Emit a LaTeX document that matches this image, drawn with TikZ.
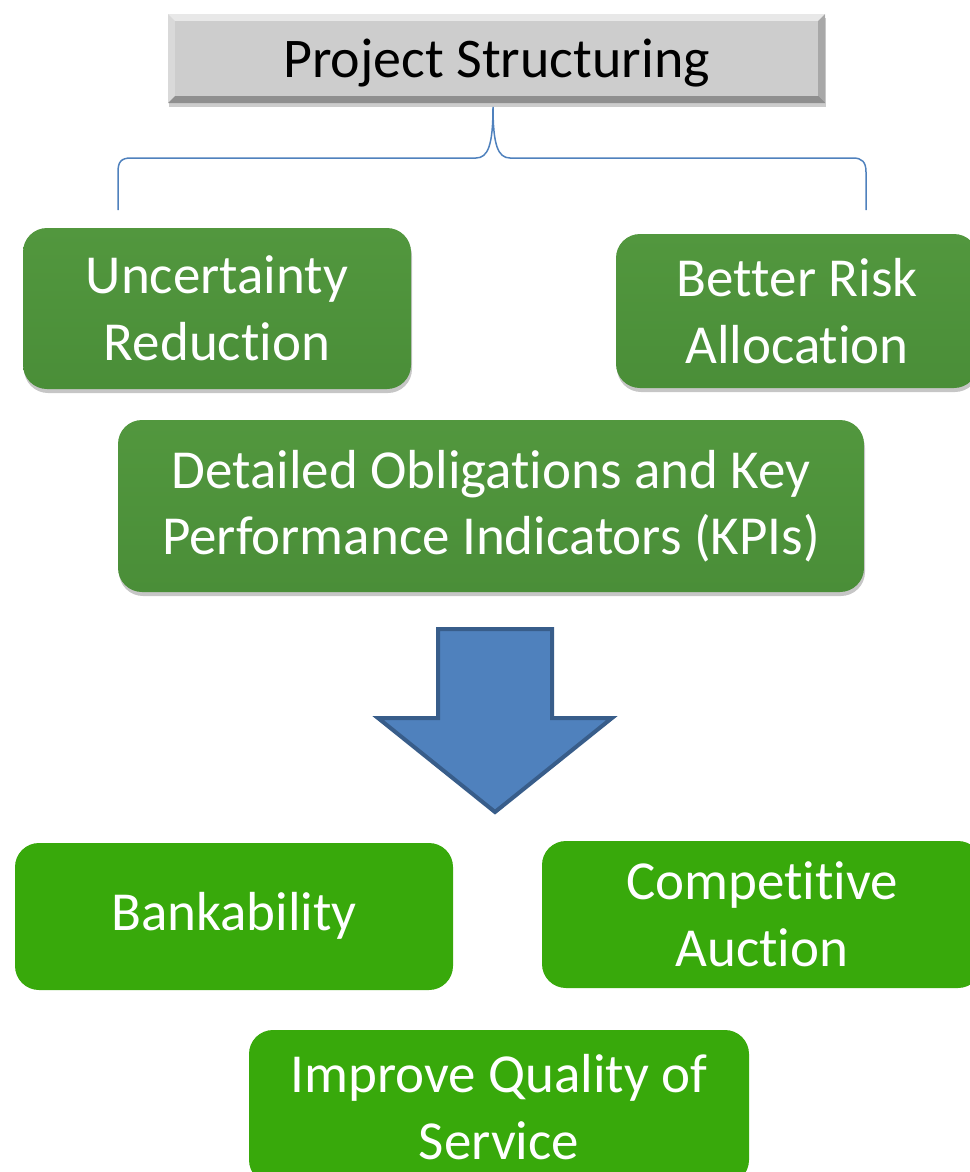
\documentclass[tikz,border=0pt]{standalone}
\usepackage{fontspec}
\setmainfont{Carlito}
\usetikzlibrary{shadows}
\newcommand\nlg{\kern0pt\relax}
\definecolor{dkgreen}{RGB}{74,142,56}
\definecolor{dkgreentop}{RGB}{82,151,62}
\definecolor{ltgreen}{RGB}{56,169,11}
\definecolor{boxgray}{RGB}{205,205,205}
\definecolor{bracecol}{RGB}{79,129,189}
\definecolor{arrowfill}{RGB}{79,129,189}
\definecolor{arrowline}{RGB}{56,93,138}
\begin{document}
\begin{tikzpicture}[x=1pt,y=-1pt,
  txt/.style={font=\fontsize{55}{66.5}\selectfont, text=white, align=center, inner sep=0pt},
  gbox/.style={txt, rounded corners=24pt, top color=dkgreentop, bottom color=dkgreen,
    drop shadow={shadow xshift=1pt, shadow yshift=-4pt, opacity=0.45}},
  lbox/.style={txt, rounded corners=24pt, fill=ltgreen},
  topbox/.style={font=\fontsize{56}{67}\selectfont, text=black, fill=boxgray, inner sep=0pt,
    text height=41pt, text depth=3pt,
    drop shadow={shadow xshift=1pt, shadow yshift=-4pt, opacity=0.4}},
  brace/.style={draw=bracecol, line width=1.5pt},
  bigarrow/.style={fill=arrowfill, draw=arrowline, line width=4pt, line join=miter}
]
\useasboundingbox (0,0) rectangle (969,1172);

% top box
\node[topbox, minimum width=657pt, minimum height=89pt] (ps) at (496.5,58.5) {Project Structuring};
\fill[white, opacity=0.55] (ps.north west) -- (ps.north east) -- ([shift={(-7,7)}]ps.north east) -- ([shift={(7,7)}]ps.north west) -- cycle;
\fill[white, opacity=0.25] (ps.north west) -- ([shift={(7,7)}]ps.north west) -- ([shift={(7,-7)}]ps.south west) -- (ps.south west) -- cycle;
\fill[black, opacity=0.18] (ps.north east) -- ([shift={(-7,7)}]ps.north east) -- ([shift={(-7,-7)}]ps.south east) -- (ps.south east) -- cycle;
\fill[black, opacity=0.3] (ps.south west) -- (ps.south east) -- ([shift={(-7,-7)}]ps.south east) -- ([shift={(7,-7)}]ps.south west) -- cycle;

% brace
\coordinate (cusp) at (493,107);
\coordinate (bl) at (118,210);
\coordinate (br) at (866,210);
\draw[brace] (bl) -- (118,172) .. controls (118,162) and (121,158) .. (131,158) -- (476,158)
  .. controls (488,158) and (493,145) .. (cusp)
  .. controls (493,145) and (498,158) .. (510,158) -- (853,158)
  .. controls (862,158) and (866,162) .. (866,172) -- (br);

% first row
\node[gbox, minimum width=388pt, minimum height=161pt] (ur) at (217,308.5) {Uncertainty\\Reduct\nlg ion};
\node[gbox, minimum width=362pt, minimum height=154pt] (bra) at (797,311) {Bet\nlg ter Risk\\Allocat\nlg ion};
\node[gbox, minimum width=746pt, minimum height=172pt] (dok) at (491,506) {Detailed Obligat\nlg ions and Key\\Performance Indicators (KPIs)};

% arrow
\coordinate (atip) at (495,812);
\draw[bigarrow] (438,629) -- (552,629) -- (552,718) -- (612,718) -- (atip) -- (378,718) -- (438,718) -- cycle;

% bottom row
\node[lbox, minimum width=438pt, minimum height=147pt, text height=38pt, text depth=10pt] (bank) at (234,916.5) {Bankability};
\node[lbox, minimum width=440pt, minimum height=147pt] (ca) at (762,914.5) {Compet\nlg it\nlg ive\\Auct\nlg ion};
\node[lbox, minimum width=500pt, minimum height=154pt] (iq) at (499,1107) {Improve Quality of\\Service};
\end{tikzpicture}
\end{document}
